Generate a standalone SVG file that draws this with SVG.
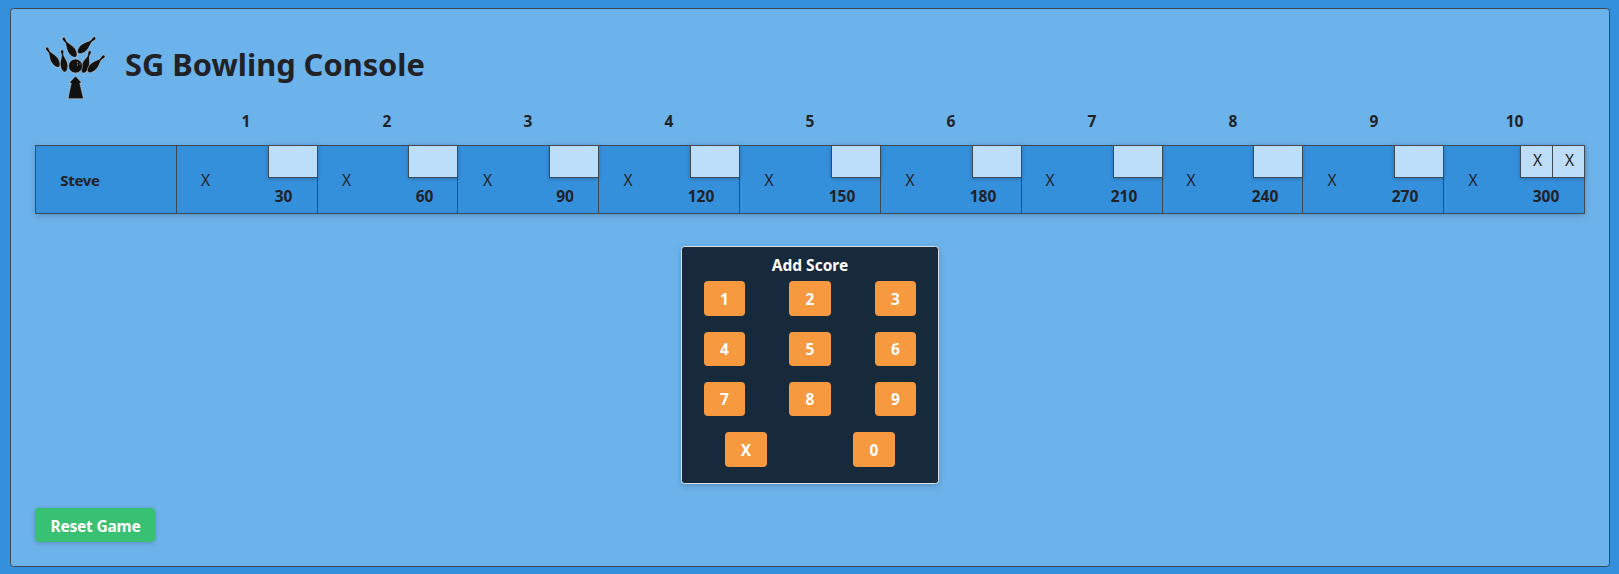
<svg xmlns="http://www.w3.org/2000/svg" width="1619" height="574" viewBox="0 0 1619 574">
<style>
text{font-family:"Noto Sans","Open Sans","DejaVu Sans",sans-serif;fill:#222226;text-anchor:middle}
.b{font-weight:700}
.h{font-size:15.500px;font-weight:700}
.s{font-size:15px;font-weight:700;letter-spacing:-.3px}
.t{font-size:15.500px;font-weight:700}
.x{font-size:15.500px}
.line{stroke:#3d4852;stroke-width:1;fill:none}
.box{fill:#bcdefa;stroke:#3d4852;stroke-width:1}
.btn{fill:#f6993f}
.bt{fill:#fff;font-size:15.500px;font-weight:700}
.pin{fill:#111;stroke:#ddd;stroke-width:.5}
</style>
<defs>
<filter id="s" x="-10%" y="-20%" width="120%" height="150%"><feDropShadow dx="0" dy="2" stdDeviation="3" flood-color="#000" flood-opacity=".18"/></filter>
<filter id="s2" x="-30%" y="-30%" width="160%" height="170%"><feDropShadow dx="0" dy="1" stdDeviation="2" flood-color="#000" flood-opacity=".22"/></filter>
<path id="pin" class="pin" d="M0-23.500c1.400 0 1.900 1.300 1.500 3-.3 1.300-.7 2.200-.3 3.500 1.200 3.500 2.700 6 2.700 9.500 0 4-1.800 7.500-3.900 7.500s-3.900-3.500-3.900-7.500c0-3.500 1.500-6 2.700-9.500 .4-1.300 0-2.200-.3-3.500-.4-1.700.1-3 1.500-3Z"/>
</defs>
<rect width="1619" height="574" fill="#3490dc"/>
<rect x="10.500" y="8.500" width="1599" height="558" rx="3" fill="#6cb2eb" stroke="#3d4852"/>
<g id="logo">
<use href="#pin" transform="translate(59 67) rotate(-33)"/>
<use href="#pin" transform="translate(76 57) rotate(-34)"/>
<use href="#pin" transform="translate(78 53) rotate(48)"/>
<use href="#pin" transform="translate(65 72) rotate(-8) scale(.95)"/>
<use href="#pin" transform="translate(83 73) rotate(18)"/>
<use href="#pin" transform="translate(88 72) rotate(45)"/>
<circle cx="75.500" cy="66" r="7" fill="#111" stroke="#ddd" stroke-width=".5"/>
<circle cx="77.500" cy="62.500" r=".7" fill="#888"/><circle cx="80" cy="64" r=".7" fill="#888"/><circle cx="77.500" cy="65" r=".7" fill="#888"/>
<path d="M75.500 76 82 83 79.800 83 83.500 98.700 68 98.700 71.200 83 69 83Z" fill="#111" stroke="#ddd" stroke-width=".5"/>
</g>
<text id="title" class="b" x="125" y="76" font-size="30.800" style="text-anchor:start">SG Bowling Console</text>
<g id="headers">
<text class="h" x="246" y="127">1</text><text class="h" x="387" y="127">2</text><text class="h" x="528" y="127">3</text><text class="h" x="669" y="127">4</text><text class="h" x="810" y="127">5</text><text class="h" x="951" y="127">6</text><text class="h" x="1092" y="127">7</text><text class="h" x="1233" y="127">8</text><text class="h" x="1374" y="127">9</text><text class="h" x="1514.500" y="127">10</text>
</g>
<g id="scorecard">
<rect x="35.500" y="145.500" width="1549" height="68" fill="#3490dc" stroke="#3d4852" filter="url(#s)"/>
<text class="s" x="80" y="186">Steve</text>
<path class="line" d="M176.500 145v68M317.500 145v68M457.500 145v68M598.500 145v68M739.500 145v68M880.500 145v68M1021.500 145v68M1162.500 145v68M1302.500 145v68M1443.500 145v68"/>
<g filter="url(#s2)">
<rect class="box" x="268.500" y="145.500" width="49" height="32"/><rect class="box" x="408.500" y="145.500" width="49" height="32"/><rect class="box" x="549.500" y="145.500" width="49" height="32"/><rect class="box" x="690.500" y="145.500" width="49" height="32"/><rect class="box" x="831.500" y="145.500" width="49" height="32"/><rect class="box" x="972.500" y="145.500" width="49" height="32"/><rect class="box" x="1113.500" y="145.500" width="49" height="32"/><rect class="box" x="1253.500" y="145.500" width="49" height="32"/><rect class="box" x="1394.500" y="145.500" width="49" height="32"/><rect class="box" x="1520.500" y="145.500" width="32" height="32"/><rect class="box" x="1552.500" y="145.500" width="32" height="32"/>
</g>
<g>
<text class="x" x="205.500" y="186">X</text><text class="x" x="346.500" y="186">X</text><text class="x" x="487.500" y="186">X</text><text class="x" x="628" y="186">X</text><text class="x" x="769" y="186">X</text><text class="x" x="910" y="186">X</text><text class="x" x="1050" y="186">X</text><text class="x" x="1191" y="186">X</text><text class="x" x="1332" y="186">X</text><text class="x" x="1473" y="186">X</text><text class="x" x="1537.500" y="166">X</text><text class="x" x="1569.500" y="166">X</text>
</g>
<text class="t" x="283.500" y="202">30</text><text class="t" x="424.500" y="202">60</text><text class="t" x="565" y="202">90</text><text class="t" x="701" y="202">120</text><text class="t" x="842" y="202">150</text><text class="t" x="983" y="202">180</text><text class="t" x="1124" y="202">210</text><text class="t" x="1265" y="202">240</text><text class="t" x="1405" y="202">270</text><text class="t" x="1546" y="202">300</text>
</g>
<g id="add-score">
<rect x="681.500" y="246.500" width="257" height="237" rx="3" fill="#12293a" stroke="#dae1e7" filter="url(#s)"/>
<text class="bt" x="810" y="271">Add Score</text>
<g id="k1"><rect class="btn" x="704" y="281" width="41" height="35" rx="4"/><text class="bt" x="724.500" y="305">1</text></g>
<g id="k2"><rect class="btn" x="789" y="281" width="42" height="35" rx="4"/><text class="bt" x="810" y="305">2</text></g>
<g id="k3"><rect class="btn" x="875" y="281" width="41" height="35" rx="4"/><text class="bt" x="895.500" y="305">3</text></g>
<g id="k4"><rect class="btn" x="704" y="332" width="41" height="34" rx="4"/><text class="bt" x="724.500" y="355">4</text></g>
<g id="k5"><rect class="btn" x="789" y="332" width="42" height="34" rx="4"/><text class="bt" x="810" y="355">5</text></g>
<g id="k6"><rect class="btn" x="875" y="332" width="41" height="34" rx="4"/><text class="bt" x="895.500" y="355">6</text></g>
<g id="k7"><rect class="btn" x="704" y="382" width="41" height="34" rx="4"/><text class="bt" x="724.500" y="405">7</text></g>
<g id="k8"><rect class="btn" x="789" y="382" width="42" height="34" rx="4"/><text class="bt" x="810" y="405">8</text></g>
<g id="k9"><rect class="btn" x="875" y="382" width="41" height="34" rx="4"/><text class="bt" x="895.500" y="405">9</text></g>
<g id="kx"><rect class="btn" x="725" y="432" width="42" height="35" rx="4"/><text class="bt" x="746" y="456">X</text></g>
<g id="k0"><rect class="btn" x="853" y="432" width="42" height="35" rx="4"/><text class="bt" x="874" y="456">0</text></g>
</g>
<g id="reset">
<rect x="35" y="508" width="120" height="34" rx="4" fill="#38c172" filter="url(#s2)"/>
<text class="bt" style="letter-spacing:-.2px" x="95.500" y="532">Reset Game</text>
</g>
</svg>
